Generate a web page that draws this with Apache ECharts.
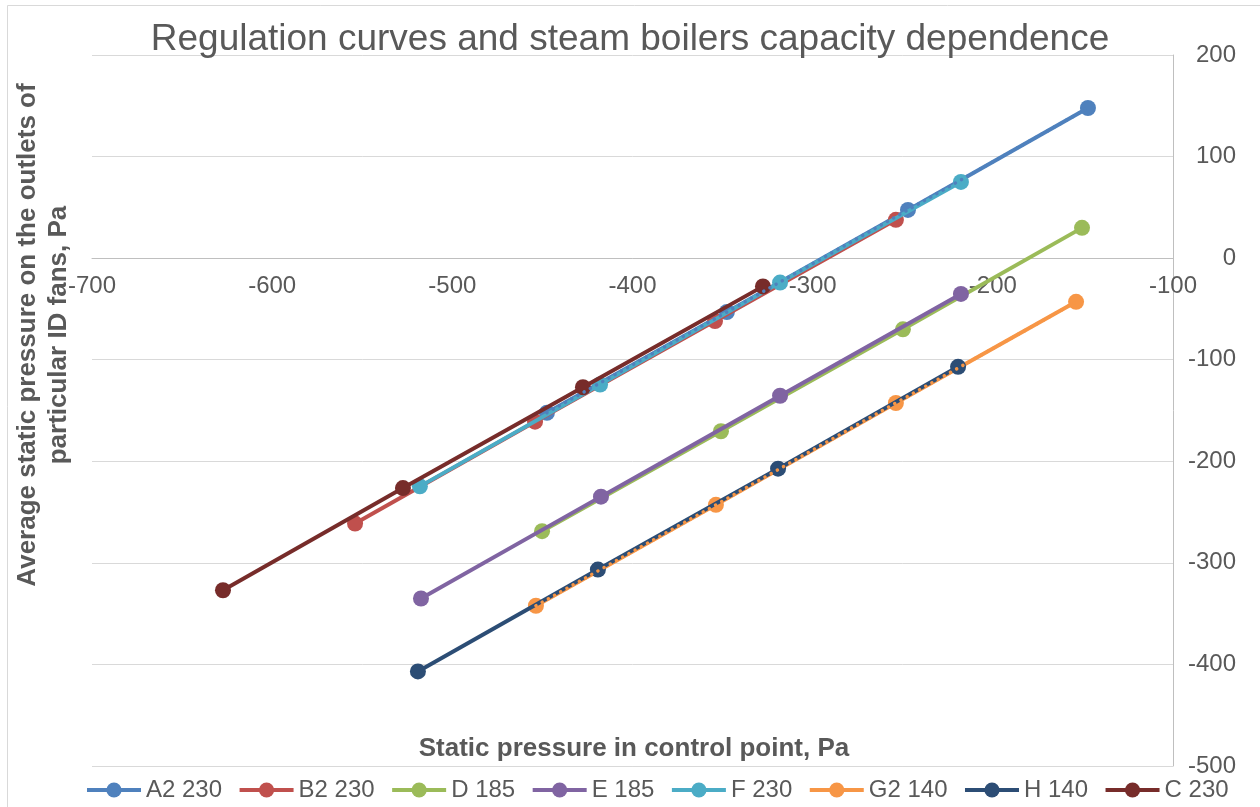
<!DOCTYPE html>
<html><head><meta charset="utf-8">
<script src="https://cdn.jsdelivr.net/npm/echarts@6/dist/echarts.min.js"></script>
<style>html,body{margin:0;padding:0;background:#fff}#c{width:1260px;height:807px}</style>
</head><body><div id="c"></div>
<script>
const seriesNames = ['A2 230','B2 230','D 185','E 185','F 230','G2 140','H 140','C 230'];
const colors = ['#4F81BD','#C0504D','#9BBB59','#8064A2','#4BACC6','#F79646','#2C4D75','#772C2A'];
const A2 = [[-447.5,-152.2],[-347.6,-53],[-247.1,47.5],[-147.2,147.8]];
const B2 = [[-554,-261.3],[-454.1,-161],[-354.2,-62],[-253.8,37.7]];
const D  = [[-450.2,-268.8],[-350.9,-170.4],[-249.9,-70.1],[-150.5,29.8]];
const E  = [[-517.4,-335.1],[-417.5,-234.8],[-318.1,-135.5],[-217.7,-35.2]];
const F  = [[-518,-224.7],[-418,-124.4],[-318.1,-24.1],[-217.7,75]];
const G2 = [[-453.6,-342.2],[-353.7,-242.9],[-253.8,-142.6],[-153.8,-43]];
const H  = [[-519.1,-406.9],[-419.2,-306.6],[-319.2,-207.3],[-219.3,-107]];
const C  = [[-627.3,-327],[-527.4,-226.4],[-427.5,-127.1],[-327.6,-27.8]];
const allData = [A2,B2,D,E,F,G2,H,C];
// series whose dotted trend line shows on top of the other curves
const trendSeries = ['A2 230','G2 140'];
const xTicks = {min:-700, max:-100, interval:100};
const yTicks = {min:-500, max:200, interval:100};

const gridTop = 55, gridBottom = 41, H_PX = 807;
const plotH = H_PX - gridTop - gridBottom;
const xOffset = -((0 - yTicks.min) / (yTicks.max - yTicks.min)) * plotH;

const txt = '#595959';
const series = [];
allData.forEach((d,i)=>{
  series.push({name:seriesNames[i], type:'line', data:d, symbol:'circle', symbolSize:16,
    showSymbol:true, z:2+i*0.01,
    itemStyle:{color:colors[i]}, lineStyle:{color:colors[i], width:4}, emphasis:{disabled:true}, animation:false});
});
allData.forEach((d,i)=>{
  if (trendSeries.indexOf(seriesNames[i]) < 0) return;
  series.push({name:seriesNames[i]+' trend', type:'line', data:d, symbol:'none', z:5, silent:true,
    lineStyle:{color:colors[i], width:3.5, type:[0.1,7], cap:'round'}, emphasis:{disabled:true}, animation:false});
});

const chart = echarts.init(document.getElementById('c'), null, {renderer:'canvas'});
chart.setOption({
  animation:false,
  backgroundColor:'#fff',
  title:{text:'Regulation curves and steam boilers capacity dependence', left:'center', top:16,
    textStyle:{fontFamily:'Liberation Sans', fontSize:37, fontWeight:'normal', color:txt}},
  grid:{left:92, right:87, top:gridTop, bottom:gridBottom, containLabel:false},
  xAxis:{type:'value', min:xTicks.min, max:xTicks.max, interval:xTicks.interval,
    position:'bottom', offset:xOffset,
    axisLine:{onZero:false, lineStyle:{color:'#BFBFBF', width:1}},
    axisTick:{show:false}, splitLine:{show:false},
    axisLabel:{color:txt, fontFamily:'Liberation Sans', fontSize:24, margin:16,
      showMinLabel:true, showMaxLabel:true}},
  yAxis:{type:'value', position:'right', min:yTicks.min, max:yTicks.max, interval:yTicks.interval,
    axisLine:{show:true, onZero:false, lineStyle:{color:'#BFBFBF', width:1}},
    axisTick:{show:false},
    splitLine:{show:true, lineStyle:{color:'#D9D9D9', width:1}},
    axisLabel:{color:txt, fontFamily:'Liberation Sans', fontSize:24, align:'right', margin:63}},
  legend:{data:seriesNames, bottom:0, left:80, itemWidth:54, itemHeight:19, itemGap:15.5,
    lineStyle:{width:4}, itemStyle:{borderWidth:0},
    textStyle:{color:txt, fontFamily:'Liberation Sans', fontSize:24}},
  graphic:[
    {type:'rect', shape:{x:7.5,y:5.5,width:1300,height:900}, style:{fill:'none', stroke:'#D9D9D9', lineWidth:1}, silent:true, z:-1},
    {type:'line', shape:{x1:92, y1:H_PX-gridBottom+0.5, x2:1173, y2:H_PX-gridBottom+0.5}, style:{stroke:'#D9D9D9', lineWidth:1}, silent:true, z:-1},
    {type:'text', x:634, y:749, style:{text:'Static pressure in control point, Pa', textAlign:'center', textVerticalAlign:'middle',
      fill:txt, font:'bold 26px "Liberation Sans"'}},
    {type:'text', x:43, y:335, rotation:Math.PI/2, style:{text:'Average static pressure on the outlets of\nparticular ID fans, Pa',
      textAlign:'center', textVerticalAlign:'middle', fill:txt, font:'bold 26px "Liberation Sans"', lineHeight:31}}
  ],
  series:series
});
</script></body></html>
